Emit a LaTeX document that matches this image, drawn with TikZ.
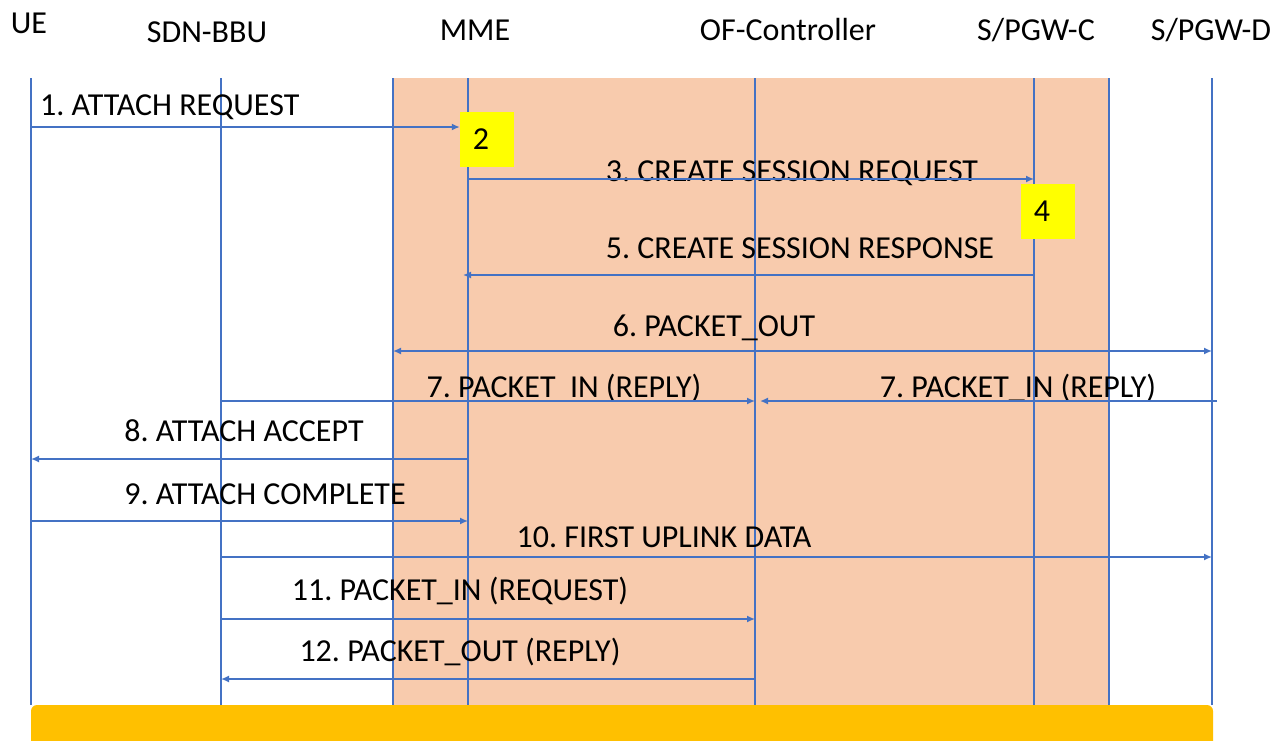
\documentclass[tikz,border=0pt]{standalone}
\usepackage{fontspec}
\setmainfont{Carlito}
\usetikzlibrary{arrows.meta}
\definecolor{lifeblue}{HTML}{4472C4}
\definecolor{peach}{HTML}{F8CBAD}
\definecolor{barorange}{HTML}{FFC000}
\definecolor{stepyellow}{HTML}{FFFF00}
\frenchspacing
\tikzset{
  hdr/.style={anchor=base, inner sep=0pt, font=\fontsize{32}{38}\selectfont},
  msg/.style={anchor=base, inner sep=0pt, font=\fontsize{32}{38}\selectfont},
  life/.style={draw=lifeblue, line width=1.5pt},
  sig/.style={draw=lifeblue, line width=1.5pt, -{Latex[length=8pt,width=7pt]}},
  sigboth/.style={draw=lifeblue, line width=1.5pt, {Latex[length=8pt,width=7pt]}-{Latex[length=8pt,width=7pt]}},
  ybox/.style={fill=stepyellow, minimum width=54pt, minimum height=55pt, inner sep=0pt,
    font=\fontsize{32}{38}\selectfont},
}
\begin{document}
\begin{tikzpicture}[x=1pt, y=-1pt]
\useasboundingbox (0,0) rectangle (1285,740);
\clip (0,0) rectangle (1285,740);

% core network shaded band
\fill[peach] (393,78) rectangle (1109,705);

% participant headers
\node[hdr] (ueh)   at (29,33)   {UE};
\node[hdr] (bbuh)  at (207,42)  {SDN-BBU};
\node[hdr] (mmeh)  at (475,40)  {MME};
\node[hdr] (ofch)  at (788,40)  {OF-Controller};
\node[hdr] (pgwch) at (1036,40) {S/PGW-C};
\node[hdr] (pgwdh) at (1211,40) {S/PGW-D};

% lifeline ends
\coordinate (ueT)   at (31,78);    \coordinate (ueB)   at (31,705);
\coordinate (bbuT)  at (221,78);   \coordinate (bbuB)  at (221,705);
\coordinate (bandL) at (393,78);   \coordinate (bandLB) at (393,705);
\coordinate (mmeT)  at (468,78);   \coordinate (mmeB)  at (468,705);
\coordinate (ofcT)  at (755,78);   \coordinate (ofcB)  at (755,705);
\coordinate (pgwcT) at (1034,78);  \coordinate (pgwcB) at (1034,705);
\coordinate (bandR) at (1109,78);  \coordinate (bandRB) at (1109,705);
\coordinate (pgwdT) at (1212,78);  \coordinate (pgwdB) at (1212,705);

\draw[life] (ueT) -- (ueB);
\draw[life] (bbuT) -- (bbuB);
\draw[life] (bandL) -- (bandLB);
\draw[life] (mmeT) -- (mmeB);
\draw[life] (ofcT) -- (ofcB);
\draw[life] (pgwcT) -- (pgwcB);
\draw[life] (bandR) -- (bandRB);
\draw[life] (pgwdT) -- (pgwdB);

% processing steps (number set a little left of centre)
\node[ybox] (s2) at (487,139)  {2\kern12pt};
\node[ybox] (s4) at (1048,211) {4\kern12pt};

% messages
\node[msg, anchor=base west] (m1) at (40,115) {1. ATTACH REQUEST};
\draw[sig] (ueT |- 0,127) -- (s2.west |- 0,127);

\node[msg] (m3) at (792,181) {3. CREATE SESSION REQUEST};
\draw[sig] (mmeT |- 0,179) -- (pgwcT |- 0,179);

\node[msg] (m5) at (800,258) {5. CREATE SESSION RESPONSE};
\draw[sig] (pgwcT |- 0,275) -- ([xshift=-5pt]mmeT |- 0,275);

\node[msg] (m6) at (714,336) {6. PACKET\_OUT};
\draw[sigboth] (bandL |- 0,351) -- (pgwdT |- 0,351);

\node[msg] (m7a) at (564,397) {7. PACKET\ \ IN (REPLY)};
\draw[sig] (bbuT |- 0,401) -- (ofcT |- 0,401);
\node[msg] (m7b) at (1018,397) {7. PACKET\_IN (REPLY)};
\coordinate (m7src) at (1217,401);
\draw[sig] (m7src) -- ([xshift=5pt]ofcT |- 0,401);

\node[msg] (m8) at (244,441) {8. ATTACH ACCEPT};
\draw[sig] (mmeT |- 0,459) -- (ueT |- 0,459);

\node[msg] (m9) at (265,504) {9. ATTACH COMPLETE};
\draw[sig] (ueT |- 0,521) -- (mmeT |- 0,521);

\node[msg] (m10) at (664,547) {10. FIRST UPLINK DATA};
\draw[sig] (bbuT |- 0,557) -- (pgwdT |- 0,557);

\node[msg] (m11) at (460,600) {11. PACKET\_IN (REQUEST)};
\draw[sig] (bbuT |- 0,619) -- (ofcT |- 0,619);

\node[msg] (m12) at (460,661) {12. PACKET\_OUT (REPLY)};
\draw[sig] (ofcT |- 0,679) -- (bbuT |- 0,679);

% bottom bar
\fill[barorange, rounded corners=6pt] (31,705) rectangle (1213,770);
\end{tikzpicture}
\end{document}
